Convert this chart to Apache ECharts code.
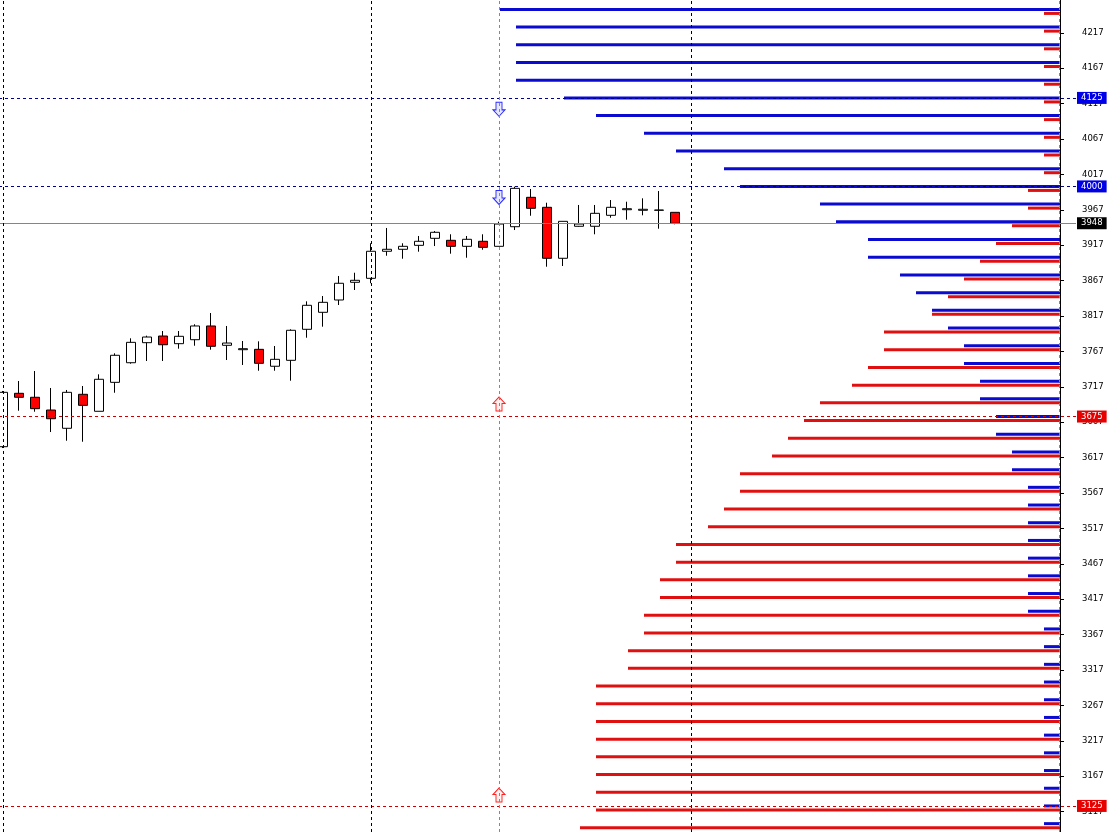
<!DOCTYPE html>
<html><head><meta charset="utf-8">
<script src="https://cdn.jsdelivr.net/npm/echarts@6/dist/echarts.min.js"></script>
<style>html,body{margin:0;padding:0;background:#fff}#c{width:1111px;height:832px}</style>
</head><body><div id="c"></div>
<script>
// ---- candles (one per bar slot, oldest first) ----
const candleOpen  = [3632.4,3707.8,3702.2,3684.2,3658.4,3706.4,3682.4,3723.3,3751.0,3779.3,3788.7,3777.9,3783.5,3802.9,3775.6,3769.4,3769.9,3746.0,3754.4,3798.2,3822.2,3839.6,3864.6,3870.2,3908.4,3911.2,3916.8,3926.7,3923.9,3915.4,3922.5,3915.4,3943.1,3984.6,3970.5,3898.5,3943.7,3943.7,3959.2,3967.1,3966.3,3966.3,3963.4];
const candleClose = [3709.2,3702.2,3686.1,3671.9,3709.2,3690.8,3727.6,3761.5,3779.8,3787.3,3776.4,3788.3,3802.9,3774.2,3778.8,3770.8,3750.2,3755.8,3796.8,3832.1,3836.3,3863.2,3867.4,3908.4,3911.2,3915.4,3922.5,3935.2,3915.4,3925.3,3914.0,3946.9,3997.3,3969.1,3898.5,3950.7,3946.9,3962.0,3970.5,3968.5,3967.7,3966.7,3947.9];
const candleLow   = [3630.5,3683.2,3681.8,3653.1,3640.8,3639.4,3682.4,3708.6,3749.6,3753.4,3753.4,3770.8,3775.0,3769.4,3754.8,3747.8,3739.7,3739.7,3725.6,3786.3,3801.9,3832.5,3853.7,3863.2,3902.1,3897.9,3907.8,3915.8,3905.0,3899.3,3910.6,3915.4,3938.4,3958.6,3886.6,3887.6,3943.1,3932.4,3955.8,3953.0,3959.2,3940.3,3946.5];
const candleHigh  = [3711.1,3725.2,3739.3,3715.3,3712.5,3718.1,3734.6,3764.3,3785.5,3789.2,3795.8,3795.8,3805.3,3821.2,3802.9,3781.7,3781.2,3774.6,3798.2,3837.7,3845.2,3873.5,3878.1,3919.7,3941.3,3919.7,3930.0,3937.0,3932.4,3930.0,3932.4,3950.2,3999.6,3996.4,3977.0,3950.7,3973.8,3973.8,3980.8,3978.4,3983.2,3993.5,3963.4];
const slotCount = 68;

// ---- option strikes and open interest (call = blue, put = red) ----
const strikes = [4250,4225,4200,4175,4150,4125,4100,4075,4050,4025,4000,3975,3950,3925,3900,3875,3850,3825,3800,3775,3750,3725,3700,3675,3650,3625,3600,3575,3550,3525,3500,3475,3450,3425,3400,3375,3350,3325,3300,3275,3250,3225,3200,3175,3150,3125,3100];
const callOI  = [35,34,34,34,34,31,29,26,24,21,20,15,14,12,12,10,9,8,7,6,6,5,5,4,4,3,3,2,2,2,2,2,2,2,2,1,1,1,1,1,1,1,1,1,1,1,1];
const putOI   = [1,1,1,1,1,1,1,1,1,1,2,2,3,4,5,6,7,8,11,11,12,13,15,16,17,18,20,20,21,22,24,24,25,25,26,26,27,27,29,29,29,29,29,29,29,29,30];

// ---- price axis ticks ----
const tickValues = [3117,3167,3217,3267,3317,3367,3417,3467,3517,3567,3617,3667,3717,3767,3817,3867,3917,3967,4017,4067,4117,4167,4217];
const priceMin = 3088.2, priceMax = 4263.3;

// ---- levels ----
const resistLevels = [4125, 4000];
const supportLevels = [3675, 3125];
const lastPrice = 3948;
const sessionMarks = [0, 23, 43];
const greyMarks = [31, 66];
const downArrows = [[31, 4108.9], [31, 3984.4]];
const upArrows = [[31, 3692.7], [31, 3140.4]];

const FONT = 'DejaVu Sans';
const categories = Array.from({length: slotCount}, (_, i) => String(i));
const candleData = candleOpen.map((o, i) => [o, candleClose[i], candleLow[i], candleHigh[i]]);
const callData = strikes.map((s, i) => [callOI[i], s]);
const putData = strikes.map((s, i) => [putOI[i], s]);

function barRenderer(color, dy) {
  return function (params, api) {
    const a = api.coord([0, api.value(1)]);
    const b = api.coord([api.value(0), api.value(1)]);
    return {
      type: 'rect',
      shape: { x: b[0], y: a[1] - 1.5 + dy, width: a[0] - b[0], height: 3 },
      style: { fill: color }
    };
  };
}

function hLine(value, color, type) {
  return { yAxis: value, lineStyle: { color: color, type: type, width: 1 } };
}
function badge(value, bg) {
  return {
    value: [-1, value],
    label: { backgroundColor: bg }
  };
}

const chart = echarts.init(document.getElementById('c'), null, { renderer: 'canvas' });
chart.setOption({
  animation: false,
  backgroundColor: '#ffffff',
  grid: [
    { left: 3, right: 36, top: 0, bottom: 0 },
    { left: 0, right: 35, top: 0, bottom: 0 }
  ],
  xAxis: [
    { type: 'category', gridIndex: 0, data: categories, boundaryGap: false, show: false },
    { type: 'value', gridIndex: 1, inverse: true, min: -1, max: 66.25, show: false }
  ],
  yAxis: [
    { type: 'value', gridIndex: 0, min: priceMin, max: priceMax, show: false },
    {
      type: 'value', gridIndex: 1, min: priceMin, max: priceMax, position: 'right',
      splitLine: { show: false },
      axisLine: { show: true, lineStyle: { color: '#000', width: 1 } },
      axisTick: { show: true, inside: false, length: 4, lineStyle: { color: '#000' }, customValues: tickValues },
      axisLabel: { show: true, margin: 6, color: '#000', fontFamily: FONT, fontSize: 8.5, customValues: tickValues, formatter: v => String(v) }
    }
  ],
  series: [
    {
      type: 'line', xAxisIndex: 1, yAxisIndex: 1, data: [], z: 1, silent: true,
      markLine: {
        silent: true, symbol: 'none', animation: false, label: { show: false },
        data: [
          hLine(resistLevels[0], '#00008b', [3, 3]),
          hLine(resistLevels[1], '#00008b', [3, 3]),
          hLine(supportLevels[0], '#cc0000', [3, 3]),
          hLine(supportLevels[1], '#cc0000', [3, 3]),
          hLine(lastPrice, '#778899', 'solid')
        ]
      }
    },
    {
      type: 'candlestick', xAxisIndex: 0, yAxisIndex: 0, data: candleData, barWidth: 10, z: 2, clip: false,
      itemStyle: { color: '#ffffff', color0: '#ff0000', borderColor: '#000000', borderColor0: '#000000', borderWidth: 1 },
      markLine: {
        silent: true, symbol: 'none', animation: false, label: { show: false },
        data: sessionMarks.map(v => ({ xAxis: v, lineStyle: { color: '#000', type: [3, 3], width: 1 } }))
          .concat(greyMarks.map(v => ({ xAxis: v, lineStyle: { color: '#888', type: [3, 3], width: 1 } })))
      }
    },
    {
      type: 'custom', xAxisIndex: 1, yAxisIndex: 1, data: callData, z: 3, silent: true,
      renderItem: barRenderer('#0a0ad0', 0)
    },
    {
      type: 'custom', xAxisIndex: 1, yAxisIndex: 1, data: putData, z: 3, silent: true,
      renderItem: barRenderer('#e01010', 4)
    },
    {
      type: 'scatter', xAxisIndex: 0, yAxisIndex: 0, data: downArrows, z: 4, silent: true,
      symbol: 'path://M3,0 L9,0 L9,7 L12,7 L6,13 L0,7 L3,7 Z', symbolSize: [12, 14],
      itemStyle: { color: '#e6e8ff', borderColor: '#2a2aff', borderWidth: 1, opacity: 1 }
    },
    {
      type: 'scatter', xAxisIndex: 0, yAxisIndex: 0, data: upArrows, z: 4, silent: true,
      symbol: 'path://M6,0 L12,6 L9,6 L9,13 L3,13 L3,6 L0,6 Z', symbolSize: [12, 14],
      itemStyle: { color: '#fff0f0', borderColor: '#ff2020', borderWidth: 1, opacity: 1 }
    },
    {
      type: 'scatter', xAxisIndex: 1, yAxisIndex: 1, z: 10, silent: true, clip: false,
      symbol: 'rect', symbolSize: 0, itemStyle: { opacity: 1 },
      data: [
        badge(resistLevels[0], '#0000e6'),
        badge(resistLevels[1], '#0000e6'),
        badge(lastPrice, '#000000'),
        badge(supportLevels[0], '#e60000'),
        badge(supportLevels[1], '#e60000')
      ],
      label: {
        show: true, position: 'right', distance: 1, opacity: 1,
        formatter: p => String(p.value[1]),
        color: '#fff', padding: [2, 4, 1, 4], fontFamily: FONT, fontSize: 8.5
      },
      labelLayout: { hideOverlap: false }
    }
  ]
});
</script>
</body></html>
